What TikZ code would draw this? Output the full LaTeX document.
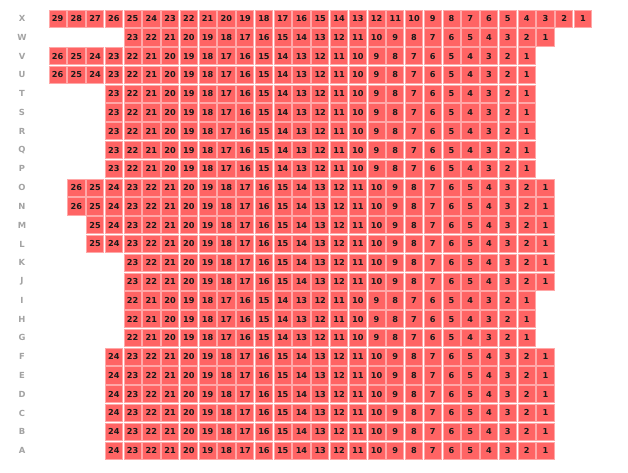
\documentclass[tikz,border=0pt]{standalone}
\usepackage{fontspec}
\setmainfont{DejaVu Sans}
\usepackage{tikz}
\usetikzlibrary{positioning}
\definecolor{butaca}{HTML}{FF6464}
\definecolor{bordeb}{HTML}{FFA8A8}
\definecolor{gris}{HTML}{A3A3A3}
\definecolor{tinta}{HTML}{1A1A1A}
\tikzset{
  asiento/.style={draw=bordeb,fill=butaca,line width=0.8pt,minimum size=17.2pt,inner sep=0pt,
    text height=6pt,text depth=0pt,font=\fontsize{8.2}{9}\selectfont\bfseries,text=tinta},
  fila/.style={font=\fontsize{8.4}{9}\selectfont\bfseries,text=gris,inner sep=0pt},
}

\begin{document}
\begin{tikzpicture}[x=1pt,y=1pt]
  \useasboundingbox (0,0) rectangle (628,-473);
  % filas: indice / letra / primera columna / butacas
  \foreach \r/\lbl/\c/\k in {0/X/0/29,1/W/4/23,2/V/0/26,3/U/0/26,4/T/3/23,5/S/3/23,6/R/3/23,7/Q/3/23,
      8/P/3/23,9/O/1/26,10/N/1/26,11/M/2/25,12/L/2/25,13/K/4/23,14/J/4/23,15/I/4/22,16/H/4/22,
      17/G/4/22,18/F/3/24,19/E/3/24,20/D/3/24,21/C/3/24,22/B/3/24,23/A/3/24} {
    \node[fila] (fila-\lbl) at (22,{-18.6-18.78*\r}) {\lbl};
    \foreach \n in {1,...,\k}
      \node[asiento] (s-\lbl-\n) at ({57.6+18.76*(\c+\k-\n)},{-18.6-18.78*\r}) {\n};
  }
\end{tikzpicture}
\end{document}
